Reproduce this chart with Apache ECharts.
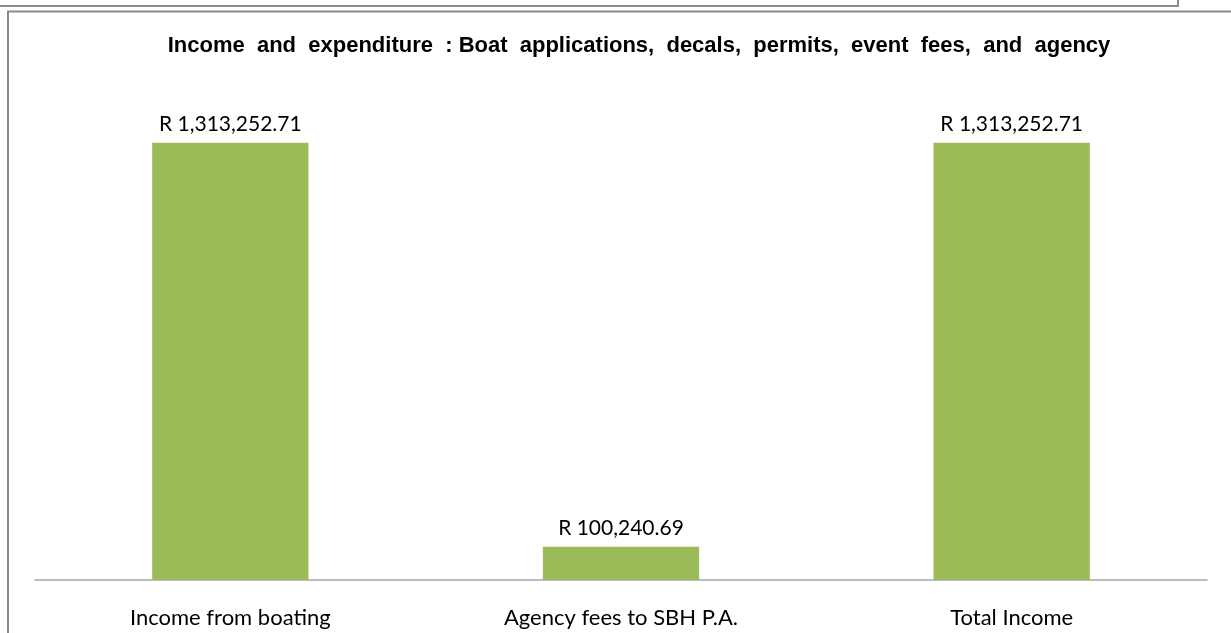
<!DOCTYPE html>
<html>
<head>
<meta charset="utf-8">
<script src="https://cdn.jsdelivr.net/npm/echarts@6/dist/echarts.min.js"></script>
<style>
  html, body { margin: 0; padding: 0; background: #ffffff; }
  #chart { width: 1231px; height: 633px; }
</style>
</head>
<body>
<div id="chart"></div>
<script>
// Income and expenditure figures (Rand)
const categories = ['Income from boating', 'Agency fees to SBH P.A.', 'Total Income'];
const amounts = [1313252.71, 100240.69, 1313252.71];

function formatRand(v) {
  return 'R ' + v.toLocaleString('en-US', { minimumFractionDigits: 2, maximumFractionDigits: 2 });
}

const chart = echarts.init(document.getElementById('chart'), null, { renderer: 'canvas' });

chart.setOption({
  animation: false,
  backgroundColor: '#ffffff',
  title: {
    text: 'Income  and  expenditure  : Boat  applications,  decals,  permits,  event  fees,  and  agency',
    left: 634,
    textAlign: 'center',
    top: 30,
    textStyle: {
      fontFamily: 'Liberation Sans, Arial, sans-serif',
      fontWeight: 'bold',
      fontSize: 22,
      color: '#000000'
    }
  },
  graphic: [
    // outer frame edges
    { type: 'polyline', shape: { points: [[0, 6], [1178, 6], [1178, 0]] },
      style: { stroke: '#8a8a8a', lineWidth: 2, fill: null } },
    { type: 'polyline', shape: { points: [[8, 633], [8, 11.5], [1231, 11.5]] },
      style: { stroke: '#8a8a8a', lineWidth: 2, fill: null } }
  ],
  grid: { left: 35, right: 24, top: 114, bottom: 53, containLabel: false },
  xAxis: {
    type: 'category',
    data: categories,
    axisLine: { lineStyle: { color: '#a6a6a6', width: 1.5 } },
    axisTick: { show: false },
    axisLabel: {
      margin: 27,
      fontFamily: 'Lato, Open Sans, sans-serif',
      fontSize: 22,
      color: '#000000'
    }
  },
  yAxis: {
    type: 'value',
    min: 0,
    max: 1400000,
    show: false,
    splitLine: { show: false }
  },
  series: [{
    type: 'bar',
    data: amounts,
    barWidth: '40%',
    itemStyle: { color: '#9bbb59' },
    label: {
      show: true,
      position: 'top',
      distance: 8,
      formatter: p => formatRand(p.value),
      fontFamily: 'Lato, Open Sans, sans-serif',
      fontSize: 21,
      color: '#000000'
    }
  }]
});
</script>
</body>
</html>
